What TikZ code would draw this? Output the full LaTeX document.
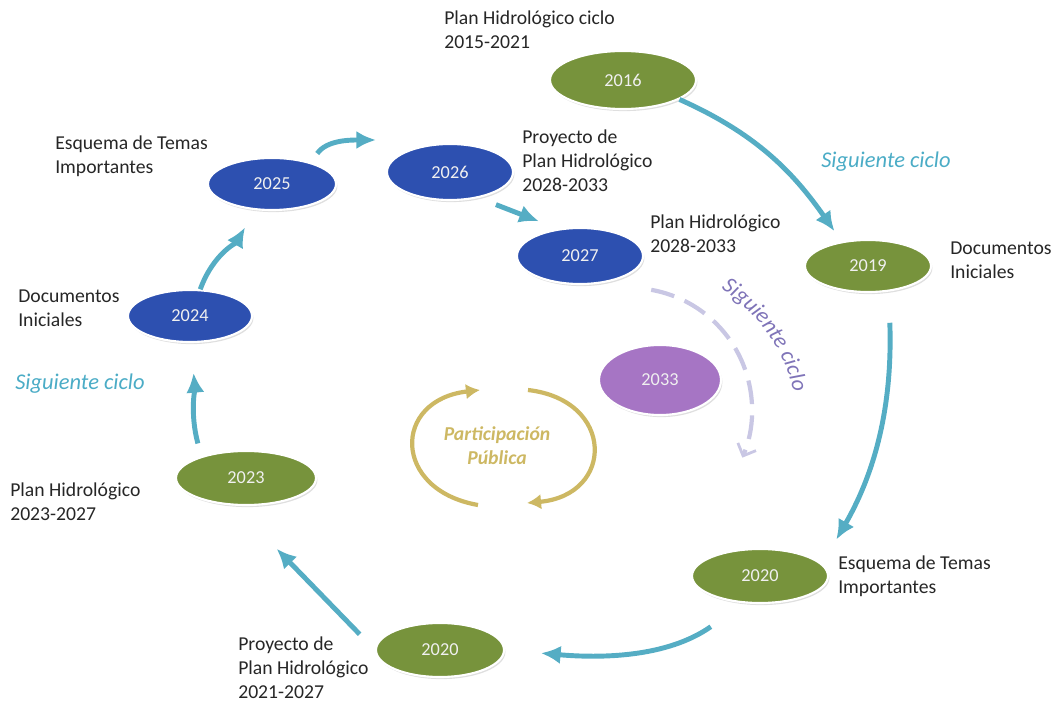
\documentclass[tikz,border=0pt]{standalone}
\usepackage{fontspec}
\setmainfont{Carlito}
\usetikzlibrary{arrows.meta,shapes.geometric,shadows,decorations.text}

\definecolor{verdeplan}{HTML}{77933C}
\definecolor{azulplan}{HTML}{2D50B0}
\definecolor{lilaplan}{HTML}{A675C4}
\definecolor{turquesa}{HTML}{55ADC4}
\definecolor{turquesatxt}{HTML}{4BACC6}
\definecolor{oro}{HTML}{CDB863}
\definecolor{lavanda}{HTML}{C9C7E4}
\definecolor{lilatxt}{HTML}{7F74B8}

\begin{document}
\begin{tikzpicture}[
    >={Latex[length=14pt,width=13pt]},
    year/.style={ellipse, draw=white, line width=1.5pt, text=white!94!black, inner sep=0pt,
        font=\fontsize{13}{15}\selectfont,
        drop shadow={opacity=0.25, shadow xshift=1pt, shadow yshift=-1.5pt}},
    verde/.style={year, fill=verdeplan},
    azul/.style={year, fill=azulplan},
    lila/.style={year, fill=lilaplan},
    etiqueta/.style={align=left, anchor=west, inner sep=0pt, text=black!85,
        font=\fontsize{14}{17}\selectfont},
    sig/.style={text=turquesatxt, inner sep=0pt, font=\fontsize{16}{19}\selectfont\itshape},
    ciclo/.style={draw=turquesa, line width=3.5pt, ->},
    ]

    \useasboundingbox (0,0) rectangle (26.4,17.6);

    % --- First cycle (green) ---
    \node[verde, minimum width=3.65cm, minimum height=1.45cm] (y2016) at (15.575, 15.6) {2016};
    \node[verde, minimum width=3.15cm, minimum height=1.3cm] (y2019) at (21.7, 10.95) {2019};
    \node[verde, minimum width=3.4cm, minimum height=1.35cm] (y2020b) at (19.0, 3.2) {2020};
    \node[verde, minimum width=3.2cm, minimum height=1.35cm] (y2020a) at (11.0, 1.35) {2020};
    \node[verde, minimum width=3.5cm, minimum height=1.35cm] (y2023) at (6.15, 5.65) {2023};

    % --- Next cycle (blue) ---
    \node[azul, minimum width=3.1cm, minimum height=1.3cm] (y2024) at (4.75, 9.7) {2024};
    \node[azul, minimum width=3.2cm, minimum height=1.3cm] (y2025) at (6.8, 13.0) {2025};
    \node[azul, minimum width=3.15cm, minimum height=1.4cm] (y2026) at (11.25, 13.3) {2026};
    \node[azul, minimum width=3.15cm, minimum height=1.4cm] (y2027) at (14.5, 11.2) {2027};

    % --- Following cycle ---
    \node[lila, minimum width=3.05cm, minimum height=1.75cm] (y2033) at (16.5, 8.1) {2033};

    % Texts next to the years
    \node[etiqueta] (tPlanA) at (11.1, 16.85) {Plan Hidrológico ciclo\\2015-2021};
    \node[etiqueta] (tDocA) at (23.75, 11.1) {Documentos\\Iniciales};
    \node[etiqueta] (tEsqA) at (20.95, 3.2) {Esquema de Temas\\Importantes};
    \node[etiqueta] (tProyA) at (5.95, 0.9) {Proyecto de\\Plan Hidrológico\\2021-2027};
    \node[etiqueta] (tPlanB) at (0.25, 5.05) {Plan Hidrológico\\2023-2027};
    \node[etiqueta] (tDocB) at (0.45, 9.9) {Documentos\\Iniciales};
    \node[etiqueta] (tEsqB) at (1.375, 13.7) {Esquema de Temas\\Importantes};
    \node[etiqueta] (tProyB) at (13.05, 13.575) {Proyecto de\\Plan Hidrológico\\2028-2033};
    \node[etiqueta] (tPlanC) at (16.25, 11.75) {Plan Hidrológico\\2028-2033};

    \node[sig] (sigA) at (22.15, 13.55) {Siguiente ciclo};
    \node[sig] (sigB) at (2.0, 8.0) {Siguiente ciclo};

    % --- Arrows of the cycle ---
    \draw[ciclo, shorten >=0.31cm] (y2016.-19) to[out=-24, in=125] (y2019.137);
    \draw[ciclo, shorten <=0.78cm, shorten >=0.7cm] (y2019.-51) to[out=-88, in=60] (y2020b.11);
    \draw[ciclo, shorten <=1.02cm, shorten >=0.9cm] (y2020b.-120) to[out=-145, in=-5] (y2020a.east);
    \draw[ciclo, shorten <=0.55cm, shorten >=1.5cm] (y2020a.west) -- (y2023.-112);
    \draw[ciclo, shorten <=0.33cm, shorten >=0.75cm] (y2023.154) to[out=105, in=-85] (y2024.-88);
    \draw[ciclo, shorten >=0.5cm] (y2024.69) to[out=70, in=-120] (y2025.-123);
    \draw[ciclo, shorten <=0.27cm] (y2025.29) to[out=55, in=180] ([xshift=-0.25cm, yshift=0.8cm]y2026.west);
    \draw[ciclo, shorten <=0.46cm, shorten >=0.51cm] (y2026.-42) -- (y2027.129);

    % Dashed arc towards the next cycle
    \draw[draw=lavanda, line width=3pt, dash pattern=on 17pt off 8pt,
        -{Straight Barb[length=7pt, width=14pt, line width=2pt]}]
        (16.28, 10.354) arc[start angle=80, end angle=-23, radius=3.05cm];
    \path[decorate, decoration={text along path, text align=center,
        text={|\fontsize{16}{19}\selectfont\itshape\color{lilatxt}|Siguiente ciclo}}]
        (17.72, 10.56) arc[start angle=62, end angle=8, radius=4.2cm];

    % Public participation in the middle
    \node[inner sep=0pt, align=center, text=oro, font=\fontsize{14}{17}\selectfont\bfseries\itshape]
        (partic) at (12.425, 6.45) {Participación\\Pública};
    \draw[draw=oro, line width=3pt, -{Latex[length=10pt, width=11pt]}]
        (11.95, 4.975) .. controls (9.8, 5.35) and (9.8, 7.6) .. (12.0, 7.85);
    \draw[draw=oro, line width=3pt, -{Latex[length=10pt, width=11pt]}]
        (13.2, 7.85) .. controls (15.375, 7.6) and (15.375, 5.225) .. (13.175, 5.025);
\end{tikzpicture}
\end{document}
